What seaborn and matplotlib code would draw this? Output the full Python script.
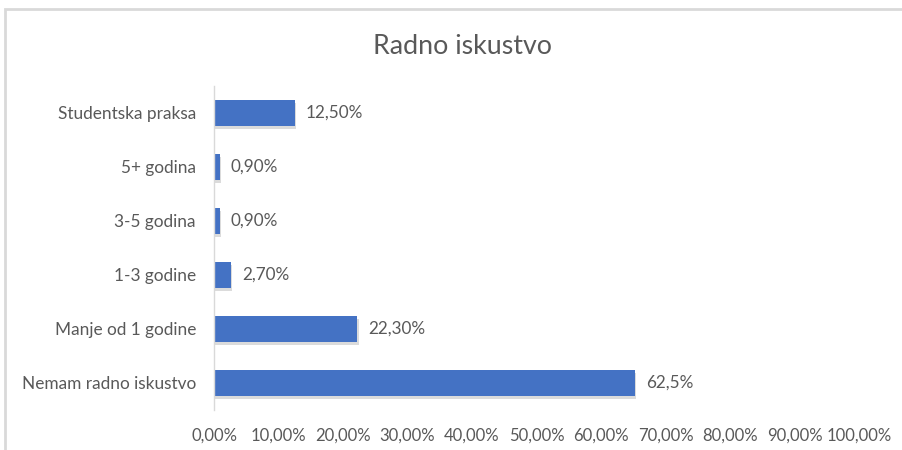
import matplotlib
matplotlib.use("Agg")
import matplotlib.pyplot as plt
import matplotlib.patheffects as pe
from matplotlib.patches import Rectangle
import pandas as pd
import seaborn as sns

# Podaci (redoslijed odozgo prema dolje)
kategorije = ["Studentska praksa", "5+ godina", "3-5 godina", "1-3 godine",
              "Manje od 1 godine", "Nemam radno iskustvo"]
vrijednosti = [12.5, 0.9, 0.9, 2.6, 22.2, 65.2]
oznake = ["12,50%", "0,90%", "0,90%", "2,70%", "22,30%", "62,5%"]
x_ticks = [0, 10, 20, 30, 40, 50, 60, 70, 80, 90, 100]
x_labels = ["0,00%", "10,00%", "20,00%", "30,00%", "40,00%", "50,00%",
            "60,00%", "70,00%", "80,00%", "90,00%", "100,00%"]

df = pd.DataFrame({"kategorija": kategorije, "vrijednost": vrijednosti})

sns.set_style("white")
plt.rcParams["font.family"] = ["Lato", "DejaVu Sans"]
siva = "#595959"

fig = plt.figure(figsize=(9.02, 4.5), dpi=100)
ax = fig.add_axes([0.2373, 0.089, 0.7150, 0.720])

sns.barplot(data=df, y="kategorija", x="vrijednost", order=kategorije,
            color="#4472C4", saturation=1, width=0.48, ax=ax)

for bar in ax.patches:
    bar.set_edgecolor("none")
    bar.set_path_effects([pe.SimplePatchShadow(offset=(1, -2), shadow_rgbFace="#9a9a9a", alpha=0.35),
                          pe.Normal()])

for i, (v, t) in enumerate(zip(vrijednosti, oznake)):
    ax.annotate(t, xy=(v, i), xytext=(8, 0), textcoords="offset points",
                va="center", ha="left", fontsize=12.3, color=siva)

ax.set_xlim(0, 100)
ax.set_ylim(len(kategorije) - 0.5, -0.5)
ax.set_xticks(x_ticks)
ax.set_xticklabels(x_labels)
ax.set_xlabel("")
ax.set_ylabel("")
ax.tick_params(axis="x", length=0, pad=13, labelsize=12, labelcolor=siva)
ax.tick_params(axis="y", length=0, pad=13, labelsize=12.4, labelcolor=siva)

for s in ["top", "right", "bottom"]:
    ax.spines[s].set_visible(False)
ax.spines["left"].set_color("#D9D9D9")
ax.spines["left"].set_linewidth(1)

fig.text(0.5125, 0.897, "Radno iskustvo", ha="center", va="center",
         fontsize=19.3, color=siva)

# okvir grafikona
fig.add_artist(Rectangle((5 / 902, -0.2), 1.2, 1.2 - 9 / 450,
                         transform=fig.transFigure, fill=False,
                         edgecolor="#D9D9D9", linewidth=2))

fig.savefig("out.png", dpi=100)
